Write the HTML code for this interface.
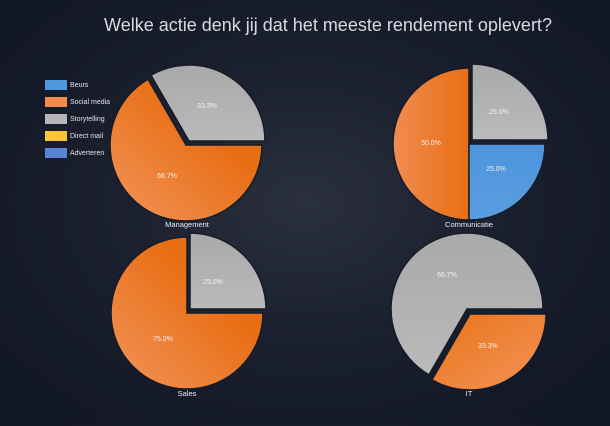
<!DOCTYPE html>
<html><head><meta charset="utf-8"><style>
html,body{margin:0;padding:0;}
body{width:610px;height:421px;overflow:hidden;background:radial-gradient(ellipse at 50% 48%,#2b303d 0%,#1c2130 40%,#141927 75%,#121726 100%);font-family:"Liberation Sans",sans-serif;}
</style></head><body>
<svg width="610" height="421" viewBox="0 0 610 421" xmlns="http://www.w3.org/2000/svg">
<defs>
<linearGradient id="og" x1="1" y1="0" x2="0" y2="1"><stop offset="0.35" stop-color="#e86e14"/><stop offset="1" stop-color="#f2945a"/></linearGradient>
<linearGradient id="og2" x1="1" y1="0" x2="0" y2="0"><stop offset="0" stop-color="#e86e14"/><stop offset="1" stop-color="#f08c50"/></linearGradient>
<linearGradient id="og3" x1="0" y1="0" x2="1" y2="1"><stop offset="0" stop-color="#e9731a"/><stop offset="1" stop-color="#f39457"/></linearGradient>
<linearGradient id="gg" x1="0" y1="0" x2="0" y2="1"><stop offset="0" stop-color="#a9a9a9"/><stop offset="1" stop-color="#bababa"/></linearGradient>
<linearGradient id="bg" x1="0" y1="0" x2="0" y2="1"><stop offset="0" stop-color="#4d94dc"/><stop offset="1" stop-color="#5a9ee0"/></linearGradient>
</defs>
<text x="328" y="31" text-anchor="middle" font-size="18" fill="#d8dadf">Welke actie denk jij dat het meeste rendement oplevert?</text>
<g font-size="7" fill="#e0e2e8">
<rect x="45" y="80" width="22" height="10" fill="#4f97dc"/><text x="70" y="87">Beurs</text>
<rect x="45" y="97" width="22" height="10" fill="#f28a4e"/><text x="70" y="104">Social media</text>
<rect x="45" y="114" width="22" height="10" fill="#b5b5b5"/><text x="70" y="121">Storytelling</text>
<rect x="45" y="131" width="22" height="10" fill="#fcc334"/><text x="70" y="138">Direct mail</text>
<rect x="45" y="148" width="22" height="10" fill="#5c84d6"/><text x="70" y="155">Adverteren</text>
</g>
<g stroke="#161b28" stroke-width="1.5">
<path d="M186,145 L262,145 A76,76 0 1 1 148,79.2 Z" fill="url(#og)"/>
<path d="M189,141 L151,75.2 A76,76 0 0 1 265,141 Z" fill="url(#gg)"/>
<path d="M469,144 L469,220 A76,76 0 0 1 469,68 Z" fill="url(#og2)"/>
<path d="M472,140 L472,64 A76,76 0 0 1 548,140 Z" fill="url(#gg)"/>
<path d="M469,144 L545,144 A76,76 0 0 1 469,220 Z" fill="url(#bg)"/>
<path d="M187,313 L263,313 A76,76 0 1 1 187,237 Z" fill="url(#og)"/>
<path d="M190,309 L190,233 A76,76 0 0 1 266,309 Z" fill="url(#gg)"/>
<path d="M467,309 L429,374.8 A76,76 0 1 1 543,309 Z" fill="url(#gg)"/>
<path d="M470,314 L546,314 A76,76 0 0 1 432,379.8 Z" fill="url(#og3)"/>
</g>
<g font-size="7" fill="#f2f2f2" text-anchor="middle">
<text x="207" y="108">33.3%</text><text x="167" y="178">66.7%</text>
<text x="499" y="114">25.0%</text><text x="431" y="145">50.0%</text><text x="496" y="171">25.0%</text>
<text x="213" y="284">25.0%</text><text x="163" y="341">75.0%</text>
<text x="447" y="277">66.7%</text><text x="488" y="348">33.3%</text>
</g>
<g font-size="7.5" fill="#eceef2" text-anchor="middle">
<text x="187" y="227">Management</text><text x="469" y="227">Communicatie</text>
<text x="187" y="396">Sales</text><text x="469" y="396">IT</text>
</g>
</svg>
</body></html>
